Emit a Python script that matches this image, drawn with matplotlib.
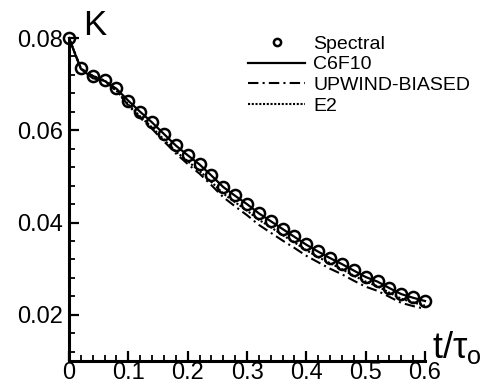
import numpy as np
import matplotlib
matplotlib.use('Agg')
import matplotlib.pyplot as plt
from matplotlib.ticker import MultipleLocator

plt.rcParams['font.family'] = ['Liberation Sans', 'DejaVu Sans']
plt.rcParams['mathtext.fontset'] = 'custom'
plt.rcParams['mathtext.rm'] = 'Liberation Sans'
plt.rcParams['mathtext.it'] = 'Liberation Sans'

#%% data

t = [0.00, 0.02, 0.04, 0.06, 0.08, 0.10, 0.12, 0.14, 0.16, 0.18,
     0.20, 0.22, 0.24, 0.26, 0.28, 0.30, 0.32, 0.34, 0.36, 0.38,
     0.40, 0.42, 0.44, 0.46, 0.48, 0.50, 0.52, 0.54, 0.56, 0.58, 0.60]

spectral = [0.0800, 0.0734, 0.0718, 0.0709, 0.0691, 0.0664, 0.0640, 0.0618, 0.0593, 0.0568,
            0.0547, 0.0527, 0.0503, 0.0478, 0.0459, 0.0441, 0.0421, 0.0404, 0.0387, 0.0370,
            0.0353, 0.0338, 0.0324, 0.0311, 0.0297, 0.0283, 0.0273, 0.0259, 0.0246, 0.0238, 0.0231]

c6f10 = [0.0800, 0.0733, 0.0713, 0.0707, 0.0690, 0.0664, 0.0640, 0.0617, 0.0592, 0.0567,
         0.0546, 0.0526, 0.0502, 0.0477, 0.0458, 0.0440, 0.0420, 0.0403, 0.0386, 0.0369,
         0.0352, 0.0337, 0.0323, 0.0310, 0.0296, 0.0282, 0.0272, 0.0258, 0.0245, 0.0237, 0.0230]

upwind = [0.0800, 0.0734, 0.0718, 0.0707, 0.0685, 0.0654, 0.0627, 0.0603, 0.0576, 0.0550,
          0.0527, 0.0506, 0.0481, 0.0455, 0.0435, 0.0416, 0.0395, 0.0378, 0.0361, 0.0345,
          0.0328, 0.0314, 0.0300, 0.0288, 0.0274, 0.0261, 0.0252, 0.0239, 0.0226, 0.0219, 0.0213]

e2 = [0.0800, 0.0734, 0.0718, 0.0708, 0.0686, 0.0656, 0.0630, 0.0606, 0.0580, 0.0554,
      0.0533, 0.0512, 0.0488, 0.0463, 0.0444, 0.0426, 0.0406, 0.0390, 0.0373, 0.0357,
      0.0340, 0.0325, 0.0312, 0.0299, 0.0285, 0.0272, 0.0262, 0.0248, 0.0235, 0.0227, 0.0220]

xticks = [0, 0.1, 0.2, 0.3, 0.4, 0.5, 0.6]
xticklabels = ['0', '0.1', '0.2', '0.3', '0.4', '0.5', '0.6']
yticks = [0.02, 0.04, 0.06, 0.08]
yticklabels = ['0.02', '0.04', '0.06', '0.08']

#%% plot

fig = plt.figure(figsize=(4.84, 3.91), dpi=100)
ax = fig.add_axes([69/484, 1 - 361/391, 356/484, 323/391])

ax.plot(t, spectral, 'o', ms=8, mfc='none', mec='k', mew=1.8, label='Spectral', clip_on=False, zorder=5)
ax.plot(t, c6f10, '-', color='k', lw=1.6, label='C6F10', clip_on=False)
ax.plot(t, upwind, color='k', lw=1.5, ls=(0, (5, 2, 1, 2)), label='UPWIND-BIASED')
ax.plot(t, e2, color='k', lw=1.5, ls=(0, (1, 0.8)), label='E2')

ax.set_xlim(0, 0.6)
ax.set_ylim(0.01, 0.08)

ax.spines['top'].set_visible(False)
ax.spines['right'].set_visible(False)
ax.spines['left'].set_linewidth(2.2)
ax.spines['bottom'].set_linewidth(2.2)

ax.xaxis.set_minor_locator(MultipleLocator(0.02))
ax.yaxis.set_minor_locator(MultipleLocator(0.004))
ax.set_xticks(xticks)
ax.set_xticklabels(xticklabels)
ax.set_yticks(yticks)
ax.set_yticklabels(yticklabels)

ax.tick_params(which='major', direction='in', length=7, width=1.6, labelsize=17)
ax.tick_params(which='minor', direction='in', length=4, width=1.3)
ax.tick_params(axis='y', which='major', pad=4)
ax.tick_params(axis='x', which='major', pad=1)

ax.text(83, 391 - 35, 'K', fontsize=25, transform=None, ha='left', va='baseline')
ax.text(432, 391 - 358, r'$\mathrm{t/\tau_o}$', fontsize=26, transform=None, ha='left', va='baseline')

leg = ax.legend(loc='upper left', bbox_to_anchor=(248/484, 1 - 35/391),
                bbox_transform=fig.transFigure, frameon=False, fontsize=14,
                handlelength=2.95, handletextpad=0.4, labelspacing=0.16,
                borderpad=0, borderaxespad=0, markerscale=0.65)

fig.savefig('out.png', dpi=100)
